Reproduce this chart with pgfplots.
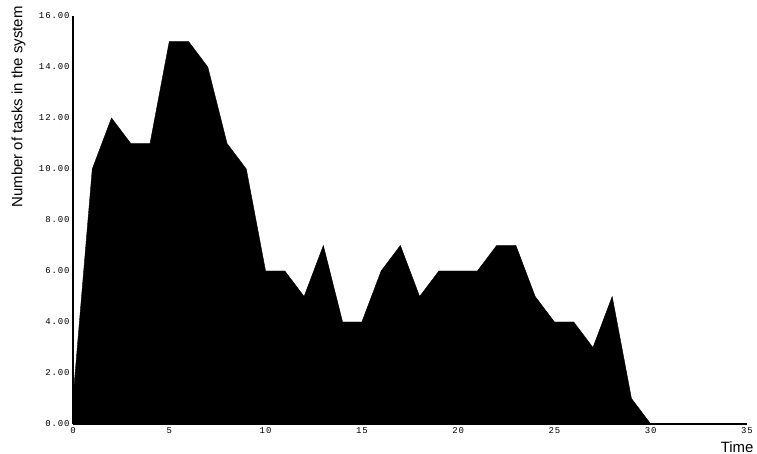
\documentclass[border=0pt]{standalone}
\usepackage{fontspec}
\setmainfont{Liberation Sans}
\setmonofont{Liberation Mono}
\usepackage{pgfplots}
\pgfplotsset{compat=1.18}
\begin{document}
\begin{tikzpicture}[x=1bp,y=1bp]
\path[use as bounding box] (-73bp,-30bp) rectangle (684bp,424bp);
\begin{axis}[
  at={(0,0)}, anchor=south west,
  scale only axis,
  width=674bp, height=408bp,
  xmin=0, xmax=35, ymin=0, ymax=16,
  axis lines=left,
  axis line style={-, line width=1.2pt},
  xtick={0,5,...,35},
  ytick={0,2,...,16},
  major tick length=0pt,
  /pgf/number format/assume math mode=true,
  yticklabel style={/pgf/number format/fixed, /pgf/number format/precision=2, /pgf/number format/fixed zerofill},
  ticklabel style={font=\ttfamily\addfontfeature{LetterSpace=10}\fontsize{9}{10}\selectfont},
  ylabel={Number of tasks in the system},
  ylabel style={font=\fontsize{15}{17}\selectfont, at={(axis description cs:0,1)}, anchor=south east, xshift=13bp, yshift=44bp},
  xlabel={Time},
  xlabel style={font=\fontsize{15}{17}\selectfont, at={(axis description cs:1,0)}, anchor=north east, yshift=-14bp, xshift=10bp},
  clip=false,
]
\addplot[fill=black, draw=black, line width=0.4pt] coordinates {
(0,1) (1,10) (2,12) (3,11) (4,11) (5,15) (6,15) (7,14) (8,11) (9,10)
(10,6) (11,6) (12,5) (13,7) (14,4) (15,4) (16,6) (17,7) (18,5) (19,6)
(20,6) (21,6) (22,7) (23,7) (24,5) (25,4) (26,4) (27,3) (28,5) (29,1)
(30,0) (31,0) (32,0) (33,0) (34,0) (35,0)
} \closedcycle;
\end{axis}
\end{tikzpicture}
\end{document}
